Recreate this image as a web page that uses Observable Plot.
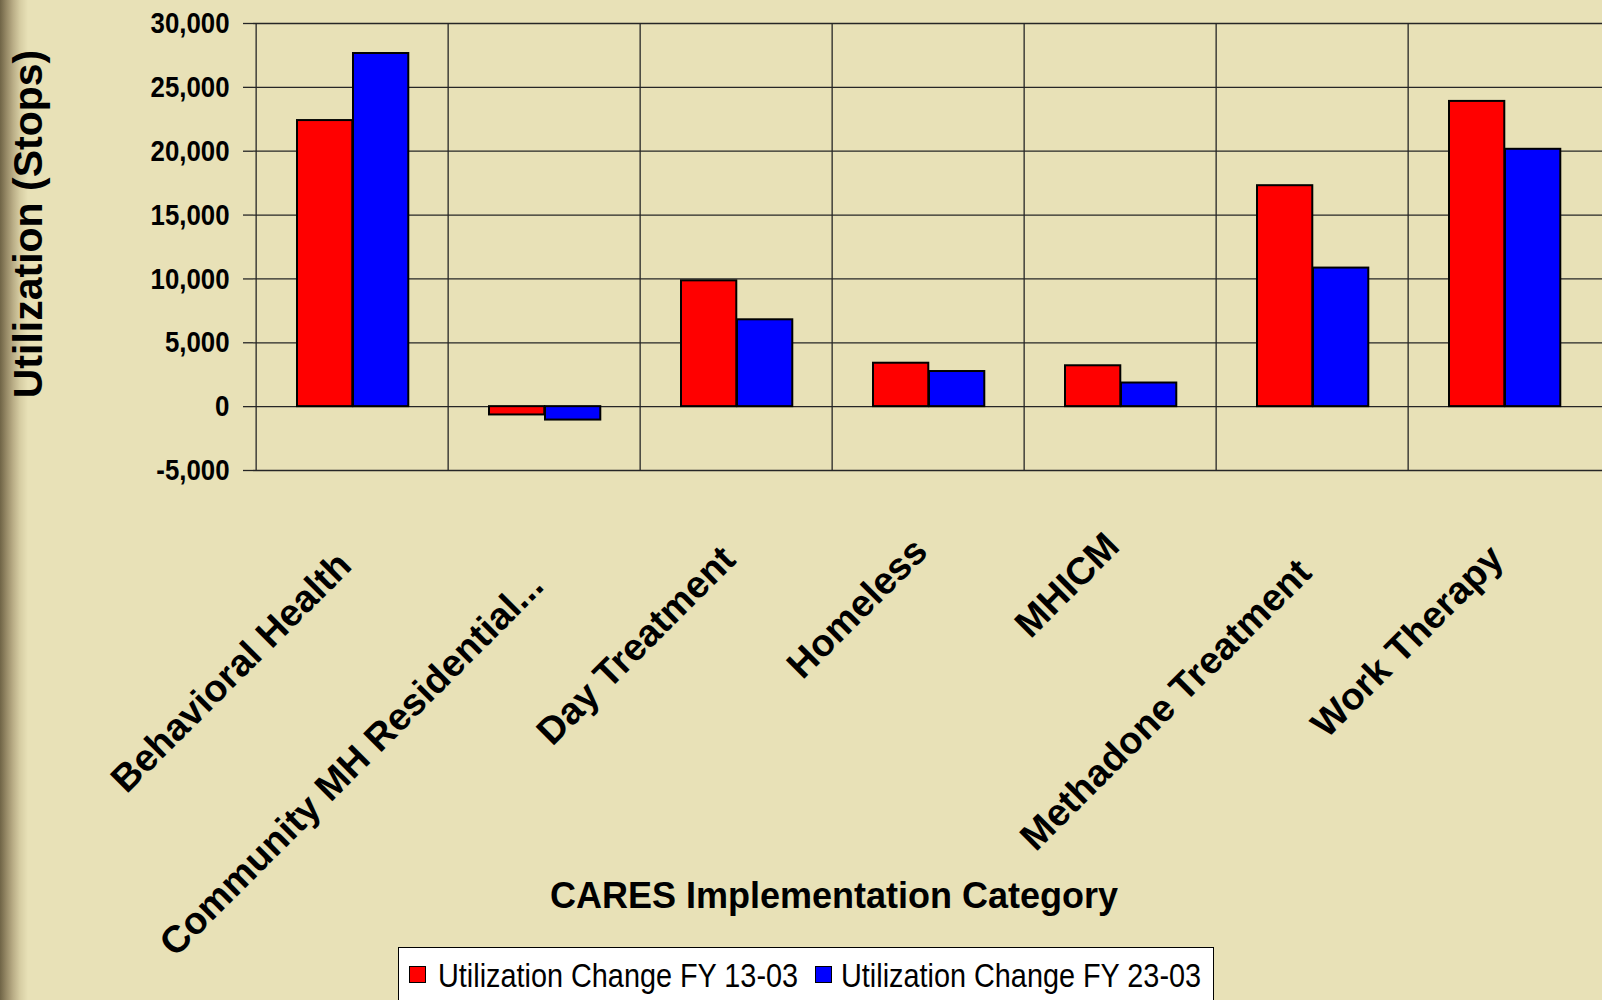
<!DOCTYPE html>
<html>
<head>
<meta charset="utf-8">
<script src="https://cdn.jsdelivr.net/npm/d3@7"></script>
<script src="https://cdn.jsdelivr.net/npm/@observablehq/plot@0.6"></script>
<style>
  html, body { margin: 0; padding: 0; width: 1602px; height: 1000px; overflow: hidden; }
  body {
    background: linear-gradient(to right, #6f6446 0px, #948764 6px, #b9ad86 13px, #d6cda3 20px, #e8e1b7 28px, #e8e1b7 100%);
    font-family: "Liberation Sans", Arial, sans-serif;
    position: relative;
  }
  #chart { position: absolute; left: 0; top: 0; }
  #legend {
    position: absolute; left: 398px; top: 947px; width: 816px; height: 80px;
    background: #ffffff; border: 1.5px solid #000; box-sizing: border-box;
  }
  .sw { position: absolute; top: 18px; width: 15px; height: 15px; border: 1.5px solid #000; }
  .lt { position: absolute; top: 7px; font-size: 34px; line-height: 40px; color: #000; white-space: nowrap; transform-origin: left center; }
</style>
</head>
<body>
<div id="chart"></div>
<div id="legend"></div>
<script>
// ---- data ----
const categories = ["Behavioral Health", "Community MH Residential...", "Day Treatment", "Homeless", "MHICM", "Methadone Treatment", "Work Therapy"];
const seriesNames = ["Utilization Change FY 13-03", "Utilization Change FY 23-03"];
const fy1303 = [22400, -650, 9850, 3400, 3200, 17300, 23900];
const fy2303 = [27650, -1050, 6800, 2750, 1850, 10850, 20150];
const seriesColors = ["#ff0000", "#0000ff"];
const yTicks = [-5000, 0, 5000, 10000, 15000, 20000, 25000, 30000];
const yTitle = "Utilization (Stops)";
const xTitle = "CARES Implementation Category";

const rows1 = categories.map((c, i) => ({category: c, value: fy1303[i]}));
const rows2 = categories.map((c, i) => ({category: c, value: fy2303[i]}));

const W = 1602, H = 947;
const mL = 253, mR = 0, mT = 23, mB = H - 470;
const bw = (W - mL - mR) / categories.length;
const barW = 56, gap = 41;
const fmt = d => d3.format(",")(d).replace("\u2212", "-");
const ff = "'Liberation Sans', Arial, sans-serif";

const chart = Plot.plot({
  width: W, height: H,
  marginLeft: mL, marginRight: mR, marginTop: mT, marginBottom: mB,
  style: {background: "transparent", fontFamily: ff, overflow: "visible"},
  x: {domain: categories, padding: 0, axis: null},
  y: {domain: [-5000, 30000], axis: null},
  marks: [
    Plot.ruleY(yTicks, {stroke: "#262626", strokeWidth: 1.3, strokeOpacity: 1}),
    Plot.ruleX(categories, {x: d => d, dx: -bw / 2, stroke: "#262626", strokeWidth: 1.3}),
    Plot.axisY({ticks: yTicks, tickSize: 10, tickPadding: 14, tickFormat: fmt, fontSize: 30, fontWeight: "bold", stroke: "#262626", strokeWidth: 1.3, strokeOpacity: 1, fill: "#000", label: null}),
    Plot.barY(rows1, {x: "category", y: "value", fill: seriesColors[0], stroke: "#000", strokeWidth: 2, insetLeft: gap, insetRight: bw - gap - barW}),
    Plot.barY(rows2, {x: "category", y: "value", fill: seriesColors[1], stroke: "#000", strokeWidth: 2, insetLeft: gap + barW, insetRight: bw - gap - 2 * barW}),
    Plot.text(categories, {x: d => d, text: d => d, frameAnchor: "bottom", rotate: -45, textAnchor: "end", dx: 1, dy: 90, fontSize: 38, fontWeight: "bold", fill: "#000", className: "xlab"}),
    Plot.text([yTitle], {text: d => d, frameAnchor: "left", textAnchor: "middle", lineAnchor: "middle", rotate: -90, dx: -225, dy: -23, fontSize: 41, fontWeight: "bold", fill: "#000"}),
    Plot.text([xTitle], {text: d => d, frameAnchor: "bottom", textAnchor: "middle", lineAnchor: "middle", dx: -94, dy: 426, fontSize: 36, fontWeight: "bold", fill: "#000"})
  ]
});
document.getElementById("chart").appendChild(chart);

// narrow the y tick labels slightly, as in the reference
chart.querySelectorAll("g[aria-label='y-axis tick label'] text").forEach(t => {
  const w = t.getComputedTextLength();
  t.setAttribute("textLength", (w * 0.86).toFixed(1));
  t.setAttribute("lengthAdjust", "spacingAndGlyphs");
});

// rotated category labels: longer labels sit a little lower, as in the reference
chart.querySelectorAll("g.xlab text").forEach(t => {
  const L = t.getComputedTextLength();
  const off = -10 + 0.1 * (L - 150);
  t.setAttribute("transform", `translate(0,${off.toFixed(1)}) ` + (t.getAttribute("transform") || ""));
});

// legend
const legend = document.getElementById("legend");
const swX = [10, 416], txX = [39, 442];
seriesNames.forEach((name, i) => {
  const sw = document.createElement("div");
  sw.className = "sw";
  sw.style.left = swX[i] + "px";
  sw.style.background = seriesColors[i];
  legend.appendChild(sw);
  const tx = document.createElement("div");
  tx.className = "lt";
  tx.style.left = txX[i] + "px";
  tx.textContent = name;
  legend.appendChild(tx);
  const w = tx.getBoundingClientRect().width;
  tx.style.transform = `scaleX(${(360 / w).toFixed(3)})`;
});
</script>
</body>
</html>
